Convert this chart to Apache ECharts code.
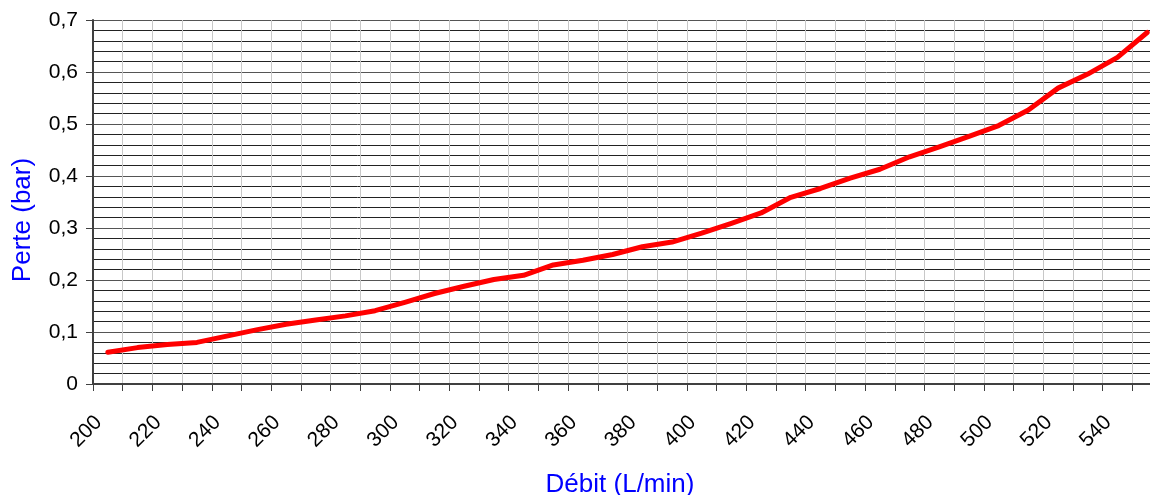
<!DOCTYPE html>
<html>
<head>
<meta charset="utf-8">
<script src="https://cdn.jsdelivr.net/npm/echarts@6/dist/echarts.min.js"></script>
<style>
html,body{margin:0;padding:0;background:#fff;}
#chart{width:1150px;height:495px;}
</style>
</head>
<body>
<div id="chart"></div>
<script>
var categories = ['200','210','220','230','240','250','260','270','280','290',
  '300','310','320','330','340','350','360','370','380','390',
  '400','410','420','430','440','450','460','470','480','490',
  '500','510','520','530','540','550'];
var perte = [0.061,0.070,0.076,0.080,0.092,0.104,0.115,0.123,0.131,0.141,
  0.157,0.174,0.188,0.201,0.209,0.229,0.238,0.249,0.264,0.273,
  0.290,0.309,0.329,0.359,0.376,0.396,0.413,0.437,0.456,0.476,
  0.497,0.527,0.569,0.596,0.628,0.676];
var yTitle = 'Perte (bar)';
var xTitle = 'Débit (L/min)';

var chart = echarts.init(document.getElementById('chart'));
var font = 'Liberation Sans, Arial, sans-serif';
chart.setOption({
  animation: false,
  grid: {left: 93, top: 20, width: 1069, height: 364, containLabel: false, outerBoundsMode: 'none'},
  xAxis: {
    type: 'category',
    data: categories,
    boundaryGap: true,
    name: xTitle,
    nameLocation: 'middle',
    nameGap: 88,
    nameTextStyle: {color: '#0000ff', fontSize: 26, fontFamily: font, padding: [0, 15, 0, 0]},
    axisLine: {lineStyle: {color: '#404040', width: 2}},
    axisTick: {show: true, interval: 0, length: 7, alignWithLabel: false, lineStyle: {color: '#404040'}},
    axisLabel: {interval: 1, rotate: 45, margin: 26, padding: [0, 13, 0, 0], color: '#000', fontSize: 21, fontFamily: font},
    splitLine: {show: true, interval: 0, lineStyle: {color: '#c8c8c8', width: 1}}
  },
  yAxis: {
    type: 'value',
    min: 0, max: 0.7, interval: 0.1,
    name: yTitle,
    nameLocation: 'middle',
    nameGap: 57,
    nameRotate: 90,
    nameTextStyle: {color: '#0000ff', fontSize: 26, fontFamily: font, padding: [0, 36, 0, 0]},
    axisLine: {show: true, lineStyle: {color: '#404040', width: 2}},
    axisTick: {show: true, length: 7, lineStyle: {color: '#404040'}},
    axisLabel: {
      margin: 15, color: '#000', fontSize: 21, fontFamily: font,
      formatter: function (v) { return v === 0 ? '0' : String(Math.round(v * 10) / 10).replace('.', ','); }
    },
    splitLine: {show: true, lineStyle: {color: '#555', width: 1}},
    minorTick: {show: false, splitNumber: 5},
    minorSplitLine: {show: true, lineStyle: {color: '#222', width: 1}}
  },
  series: [{
    type: 'line',
    data: perte,
    symbol: 'none',
    lineStyle: {color: '#ff0000', width: 5, cap: 'round', join: 'round'},
    itemStyle: {color: '#ff0000'}
  }]
});
</script>
</body>
</html>
